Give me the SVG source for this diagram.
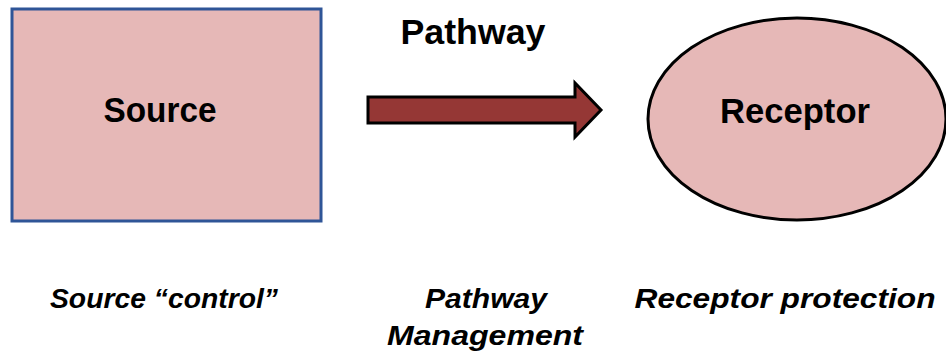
<svg xmlns="http://www.w3.org/2000/svg" width="946" height="357" viewBox="0 0 946 357">
<style>
.t{font-family:"Liberation Sans",Arial,sans-serif;font-weight:bold;fill:#000}
.b{font-size:35px}
.i{font-size:28px;font-style:italic}
</style>
<rect width="946" height="357" fill="#fff"/>
<g id="source">
<rect x="12" y="9" width="309" height="212" fill="#E6B8B7" stroke="#2F5597" stroke-width="3"/>
<text class="t b" x="160" y="122" text-anchor="middle" textLength="113" lengthAdjust="spacingAndGlyphs">Source</text>
</g>
<g id="receptor">
<ellipse cx="797" cy="119" rx="149" ry="101" fill="#E6B8B7" stroke="#000" stroke-width="3"/>
<text class="t b" x="795" y="123" text-anchor="middle" textLength="150" lengthAdjust="spacingAndGlyphs">Receptor</text>
</g>
<g id="connectors">
<path d="M368,97 H575 V83 L601,110 L575,137 V123 H368 Z" fill="#953735" stroke="#000" stroke-width="3" stroke-linejoin="miter"/>
</g>
<g id="labels">
<text class="t b" x="473" y="44" text-anchor="middle" textLength="145" lengthAdjust="spacingAndGlyphs">Pathway</text>
<text class="t i" x="164" y="308" text-anchor="middle" textLength="228" lengthAdjust="spacingAndGlyphs">Source “control”</text>
<text class="t i" x="486" y="308" text-anchor="middle" textLength="122" lengthAdjust="spacingAndGlyphs">Pathway</text>
<text class="t i" x="485" y="345" text-anchor="middle" textLength="196" lengthAdjust="spacingAndGlyphs">Management</text>
<text class="t i" x="785" y="308" text-anchor="middle" textLength="301" lengthAdjust="spacingAndGlyphs">Receptor protection</text>
</g>
</svg>
